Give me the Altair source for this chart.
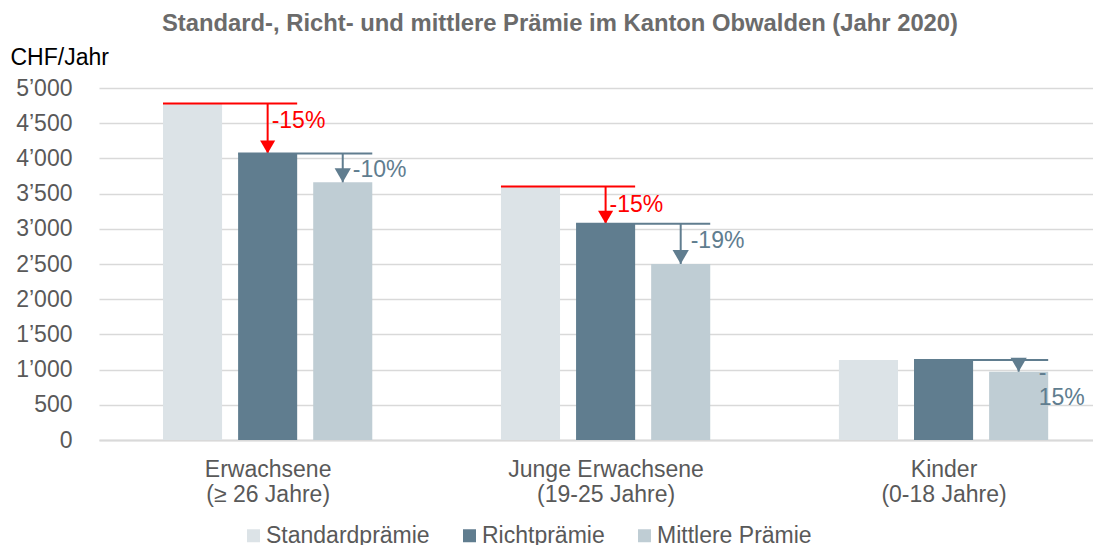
import altair as alt
import pandas as pd

# ---- data -------------------------------------------------------------
groups = ["Erwachsene|(≥ 26 Jahre)", "Junge Erwachsene|(19-25 Jahre)", "Kinder|(0-18 Jahre)"]
series = ["Standardprämie", "Richtprämie", "Mittlere Prämie"]
standard = [4780, 3600, 1135]
richt = [4070, 3070, 1135]
mittlere = [3660, 2500, 970]
red_labels = ["-15%", "-15%", ""]
gray_labels = ["-10%", "-19%", "-|15%"]
y_ticks = list(range(0, 5001, 500))

colors = ["#dce3e7", "#607d8f", "#bfcdd4"]
RED = "#ff0000"
GRAY = "#607d8f"
FONT = "Liberation Sans"

GROUP_STEP = 4.5   # slots per category group
HALF = 0.3933      # half bar width in slot units

rows = []
for gi, g in enumerate(groups):
    for si, (s, vals) in enumerate(zip(series, [standard, richt, mittlere])):
        rows.append({"group": g, "gi": gi, "series": s, "si": si, "value": vals[gi]})
bars_df = pd.DataFrame(rows)

ann_df = pd.DataFrame({"group": groups, "gi": list(range(len(groups))),
                       "S": standard, "R": richt, "M": mittlere,
                       "red": red_labels, "gray": gray_labels})

xscale = alt.Scale(domain=[-1.2455, 11.990], nice=False, zero=False, padding=0)
yscale = alt.Scale(domain=[0, 5000], nice=False, padding=0)

# nested conditional: which group label belongs to a tick value
centers = [gi * GROUP_STEP + 1 for gi in range(len(groups))]
cond = "'" + groups[-1] + "'"
for gi in range(len(groups) - 2, -1, -1):
    cond = f"(datum.value < {centers[gi] + GROUP_STEP / 2} ? '{groups[gi]}' : {cond})"
x_label_expr = f"split({cond}, '|')"

x_axis = alt.Axis(values=centers, tickCount=len(centers) + 1, labelExpr=x_label_expr,
                  title=None, ticks=False,
                  grid=False, domainColor="#d9d9d9", domainWidth=2, labelFont=FONT,
                  labelFontSize=23, labelColor="#595959", labelPadding=18,
                  labelLineHeight=25, labelLimit=400, labelOverlap=False)
y_axis = alt.Axis(values=y_ticks, tickCount=len(y_ticks) + 1, labelOverlap=False,
                  labelExpr="replace(format(datum.value, ','), ',', '’')",
                  title="CHF/Jahr", titleAngle=0, titleAlign="left",
                  titleBaseline="middle", titleX=-89, titleY=-31,
                  titleFont=FONT, titleFontSize=23, titleFontWeight="normal",
                  titleColor="#000000", ticks=False, domain=False,
                  gridColor="#d9d9d9", gridWidth=1.5, labelFont=FONT,
                  labelFontSize=23, labelColor="#595959", labelPadding=27)


def X(field):
    return alt.X(field, type="quantitative", scale=xscale, axis=x_axis)


def Y(field):
    return alt.Y(field, type="quantitative", scale=yscale, axis=y_axis, stack=None)


bars = alt.Chart(bars_df).transform_calculate(
    slot=f"datum.gi * {GROUP_STEP} + datum.si",
).transform_calculate(
    x0=f"datum.slot - {HALF}", x1=f"datum.slot + {HALF}"
).mark_bar(orient="vertical").encode(
    x=X("x0"),
    x2="x1:Q",
    y=Y("value"),
    color=alt.Color("series:N", scale=alt.Scale(domain=series, range=colors),
                    legend=alt.Legend(title=None, orient="none", legendX=143, legendY=436,
                                      direction="horizontal", symbolType="square",
                                      symbolSize=169, symbolStrokeWidth=0,
                                      labelFont=FONT, labelFontSize=23, labelLimit=0,
                                      labelColor="#595959", columnPadding=28,
                                      labelOffset=1)),
)

ann = alt.Chart(ann_df).transform_calculate(
    sS=f"datum.gi * {GROUP_STEP}",
    sR=f"datum.gi * {GROUP_STEP} + 1",
    sM=f"datum.gi * {GROUP_STEP} + 2",
).transform_calculate(
    redL=f"datum.sS - {HALF}", redR=f"datum.sR + {HALF}",
    grayL=f"datum.sR - {HALF}", grayR=f"datum.sM + {HALF}",
)

arrow_path = "M-0.58,-1L0.58,-1L0,0Z"

red_ann = ann.transform_filter("datum.red != ''")
red_h = red_ann.mark_rule(color=RED, strokeWidth=2).encode(
    x=X("redL"), x2="redR:Q", y=Y("S"))
red_v = red_ann.mark_rule(color=RED, strokeWidth=2).encode(
    x=X("sR"), y=Y("S"), y2="R:Q")
red_tip = red_ann.mark_point(shape=arrow_path, filled=True, size=676, opacity=1,
                             color=RED, strokeWidth=0).encode(
    x=X("sR"), y=Y("R"))
red_txt = red_ann.mark_text(color=RED, font=FONT, fontSize=23, align="left",
                            baseline="middle", dx=4, dy=18).encode(
    x=X("sR"), y=Y("S"), text="red:N")

gray_h = ann.mark_rule(color=GRAY, strokeWidth=2).encode(
    x=X("grayL"), x2="grayR:Q", y=Y("R"))
gray_v = ann.mark_rule(color=GRAY, strokeWidth=2).encode(
    x=X("sM"), y=Y("R"), y2="M:Q")
gray_tip = ann.mark_point(shape=arrow_path, filled=True, size=784, opacity=1,
                          color=GRAY, strokeWidth=0).encode(
    x=X("sM"), y=Y("M"))
gray_txt = ann.transform_filter("datum.gi < 2").mark_text(
    color=GRAY, font=FONT, fontSize=23, align="left", baseline="middle",
    dx=10, dy=17).encode(
    x=X("sM"), y=Y("R"), text="gray:N")
gray_txt_small = ann.transform_filter("datum.gi >= 2").mark_text(
    color=GRAY, font=FONT, fontSize=23, align="left", baseline="alphabetic",
    lineBreak="|", lineHeight=25, dx=20, dy=8).encode(
    x=X("sM"), y=Y("M"), text="gray:N")

chart = alt.layer(
    bars, red_h, red_v, red_tip, red_txt, gray_h, gray_v, gray_tip, gray_txt, gray_txt_small
).properties(
    width=994, height=352,
    title=alt.TitleParams(
        "Standard-, Richt- und mittlere Prämie im Kanton Obwalden (Jahr 2020)",
        font=FONT, fontSize=23.8, fontWeight="bold", color="#6b6b6b",
        anchor="middle", frame="group", dx=-36, offset=10),
    autosize=alt.AutoSizeParams(type="none"),
    padding={"left": 91, "top": 80, "right": 0, "bottom": 105},
).configure(background="white").configure_view(stroke=None)

chart.save("out.html", embed_options={"renderer": "svg", "actions": False})
